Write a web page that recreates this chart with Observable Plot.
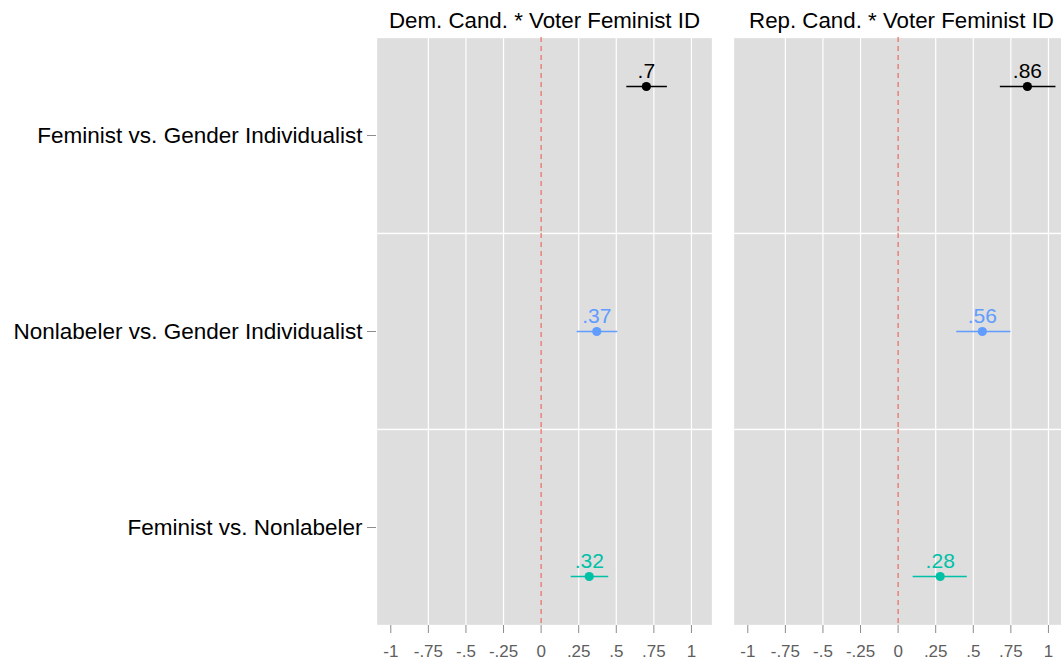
<!DOCTYPE html>
<html>
<head>
<meta charset="utf-8">
<script src="https://cdn.jsdelivr.net/npm/d3@7"></script>
<script src="https://cdn.jsdelivr.net/npm/@observablehq/plot@0.6"></script>
<style>
  html, body { margin: 0; padding: 0; background: #fff; overflow: hidden; }
  #chart svg { display: block; max-width: none; font-family: "Liberation Sans", Arial, Helvetica, sans-serif; }
</style>
</head>
<body>
<div id="chart"></div>
<script>
// Contrasts (rows) and the two interaction panels (columns)
const contrasts = [
  "Feminist vs. Gender Individualist",
  "Nonlabeler vs. Gender Individualist",
  "Feminist vs. Nonlabeler"
];
const panels = ["Dem. Cand. * Voter Feminist ID", "Rep. Cand. * Voter Feminist ID"];
const contrastColors = ["#000000", "#619CFF", "#00C0A6"];

// Estimates with interval bounds, per panel, in contrast order
const demEst = [0.70, 0.37, 0.32];
const demLo  = [0.57, 0.24, 0.20];
const demHi  = [0.84, 0.51, 0.45];
const repEst = [0.86, 0.56, 0.28];
const repLo  = [0.68, 0.39, 0.10];
const repHi  = [1.05, 0.75, 0.46];

const xTicks = [-1, -0.75, -0.5, -0.25, 0, 0.25, 0.5, 0.75, 1];
const gridTicks = [-0.75, -0.5, -0.25, 0.25, 0.5, 0.75, 1];

// Drop the leading zero: 0.75 -> ".75", -0.5 -> "-.5"
const fmt = v => String(v).replace(/^(-?)0\./, "$1.");

const rows = [];
contrasts.forEach((c, i) => {
  rows.push({panel: panels[0], contrast: c, est: demEst[i], lo: demLo[i], hi: demHi[i]});
  rows.push({panel: panels[1], contrast: c, est: repEst[i], lo: repLo[i], hi: repHi[i]});
});

// The right-hand panel runs slightly past the right edge of the page
const chart = Plot.plot({
  width: 1061,
  height: 662,
  marginLeft: 376,
  marginRight: -8,
  marginTop: 36,
  marginBottom: 36,
  style: {fontFamily: "'Liberation Sans', Arial, Helvetica, sans-serif", background: "#fff", maxWidth: "none"},
  fx: {domain: panels, paddingInner: 21 / 357, paddingOuter: 0},
  fy: {domain: contrasts, padding: 0},
  x: {domain: [-1.095, 1.14]},
  y: {type: "point", domain: contrasts, padding: 1, axis: null},
  color: {domain: contrasts, range: contrastColors},
  marks: [
    Plot.frame({fill: "#dedede", stroke: "#ffffff", strokeWidth: 1.3}),
    Plot.ruleX(gridTicks, {stroke: "#ffffff", strokeWidth: 1.2}),
    Plot.ruleX([0], {stroke: "#ec6a62", strokeWidth: 1.2, strokeDasharray: "5,4"}),
    Plot.ruleY(rows, {fx: "panel", fy: "contrast", y: "contrast", x1: "lo", x2: "hi",
      stroke: "contrast", strokeWidth: 1.3}),
    Plot.dot(rows, {fx: "panel", fy: "contrast", y: "contrast", x: "est",
      fill: "contrast", r: 4.6}),
    Plot.text(rows, {fx: "panel", fy: "contrast", y: "contrast", x: "est",
      text: d => fmt(d.est), fill: "contrast", fontSize: 21, lineAnchor: "bottom", dy: -9}),
    Plot.axisX({ticks: xTicks, tickFormat: fmt, tickSize: 8, tickPadding: 11,
      stroke: "#8c8c8c", fill: "#5e5e5e", fontSize: 17, label: null}),
    Plot.axisFy({anchor: "left", tickSize: 9, tickPadding: 5, stroke: "#8c8c8c",
      fill: "#000000", fontSize: 22.5, label: null}),
    Plot.axisFx({anchor: "top", tickSize: 0, tickPadding: 10, fill: "#000000",
      fontSize: 22.3, label: null})
  ]
});

document.getElementById("chart").appendChild(chart);
</script>
</body>
</html>
